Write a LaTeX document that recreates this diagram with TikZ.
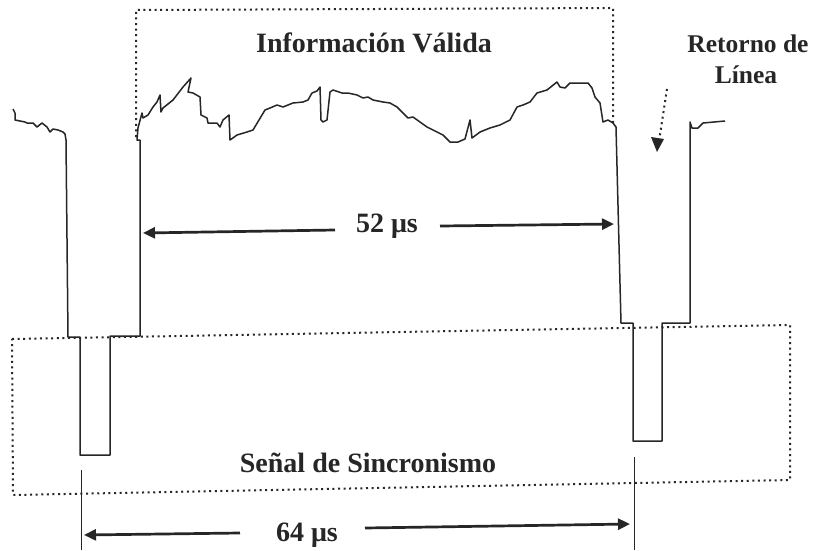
\documentclass[tikz,border=0pt]{standalone}
\usepackage{fontspec}
\setmainfont{Liberation Serif}
\usetikzlibrary{arrows.meta}
\definecolor{ink}{HTML}{262626}
\tikzset{
  wave/.style={draw=ink, line width=1.5pt, line join=round},
  thin/.style={draw=ink, line width=1pt},
  dots/.style={draw=ink, line width=2pt, line cap=butt, dash pattern=on 2pt off 3.6pt},
  dimarrow/.style={draw=ink, line width=2.7pt, -{Triangle[length=12pt,width=11pt]}},
  lbl/.style={text=ink, font=\bfseries\fontsize{28}{30}\selectfont, anchor=base, inner sep=0pt},
  lblsm/.style={text=ink, font=\bfseries\fontsize{25.5}{30}\selectfont, anchor=base, inner sep=0pt}
}
\begin{document}
\begin{tikzpicture}[x=1pt,y=-1pt]
\useasboundingbox (0,0) rectangle (815,550);
\fill[white] (0,0) rectangle (815,550);

% dotted boxes
\draw[dots] (136,137) -- (136,10) -- (613,8) -- (613,123);
\draw[dots] (12,339) -- (790,325) -- (790,480) -- (13,495) -- cycle;

% signal
\draw[wave] (13,109) -- (15,113) -- (15,120) -- (25,122) -- (27,123) -- (33,123) -- (37,127) -- (42,123) -- (47,127) -- (50,132) -- (53,129) -- (58,130) -- (63,132) -- (65,134) -- (66,140)
  -- (68,337) -- (80,337) -- (80,455) -- (110,455) -- (110,336) -- (140,336) -- (140,140)
  -- (137,140) -- (138,128) -- (142,113) -- (143,118) -- (148,115) -- (153,107) -- (157,102) -- (160,95) -- (161,112) -- (163,108) -- (173,100) -- (183,87) -- (191,78) -- (188,92) -- (193,93) -- (200,97) -- (201,115) -- (207,118) -- (208,123) -- (217,123) -- (220,127) -- (223,120) -- (229,115) -- (230,140) -- (237,135) -- (247,132) -- (253,130) -- (265,110) -- (270,108) -- (277,105) -- (283,107) -- (293,103) -- (303,102) -- (308,100) -- (312,93) -- (317,91) -- (320,87) -- (321,120) -- (323,122) -- (327,120) -- (330,92) -- (333,90) -- (342,93) -- (348,93) -- (357,95) -- (363,98) -- (368,97) -- (373,100) -- (383,102) -- (390,103) -- (397,107) -- (403,113) -- (408,118) -- (413,117) -- (420,122) -- (427,127) -- (437,132) -- (443,135) -- (450,142) -- (458,142) -- (465,139) -- (470,120) -- (472,138) -- (480,132) -- (490,128) -- (500,125) -- (510,120) -- (517,107) -- (523,105) -- (530,102) -- (537,93) -- (547,90) -- (557,82) -- (560,87) -- (565,88) -- (570,83) -- (588,83) -- (592,88) -- (595,97) -- (600,103) -- (603,122) -- (608,120) -- (613,123) -- (616,127)
  -- (621,323) -- (633,323) -- (633,441) -- (662,441) -- (662,323) -- (690,323) -- (690,122) -- (692,128) -- (698,128) -- (703,123) -- (725,121);

% vertical reference lines
\coordinate (l1) at (81,470); \coordinate (l2) at (81,550);
\coordinate (r1) at (634,457); \coordinate (r2) at (634,550);
\draw[thin] (l1) -- (l2);
\draw[thin] (r1) -- (r2);

% labels
\node[lbl] (info) at (374,52) {Información Válida};
\node[lblsm] (ret) at (748,52) {Retorno de};
\node[lblsm] (lin) at (746,83) {Línea};
\node[lbl] (t52) at (387,232) {52 μs};
\node[lbl] (sync) at (368,472) {Señal de Sincronismo};
\node[lbl] (t64) at (307,541) {64 μs};

% dimension arrows
\coordinate (a52l) at (143,233); \coordinate (a52r) at (614,224);
\coordinate (a64l) at (84,535); \coordinate (a64r) at (630,524);
\draw[dimarrow] (335,230) -- (a52l);
\draw[dimarrow] (440,226) -- (a52r);
\draw[dimarrow] (240,533) -- (a64l);
\draw[dimarrow] (365,528) -- (a64r);

% dotted arrow for retorno
\coordinate (rtip) at (657,152);
\draw[dots] (667,89) -- (659.5,138);
\fill[ink] (rtip) -- (651,137) -- (664,139) -- cycle;
\end{tikzpicture}
\end{document}
